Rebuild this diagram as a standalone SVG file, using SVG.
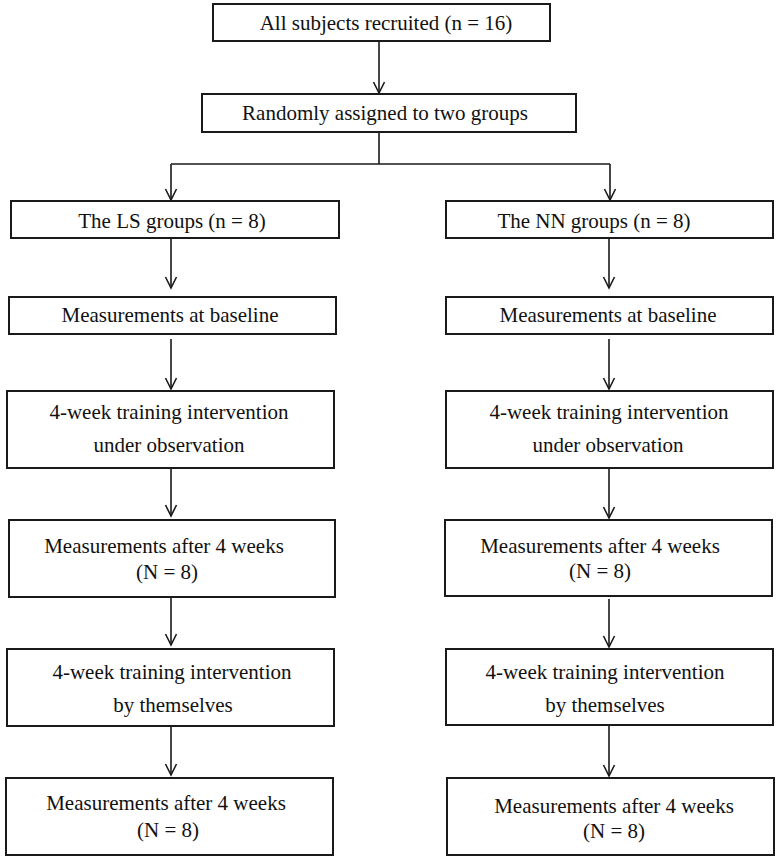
<svg xmlns="http://www.w3.org/2000/svg" width="780" height="864" viewBox="0 0 780 864">
<defs>
<style>
.box rect{fill:#fff;stroke:#1a1a1a;stroke-width:2}
.box text{font-family:"Liberation Serif","Times New Roman",serif;font-size:21px;fill:#111;text-anchor:middle}
.conn path{fill:none;stroke:#1a1a1a;stroke-width:1.6}
.head{fill:none;stroke:#1a1a1a;stroke-width:1.6}
</style>
</defs>
<rect width="780" height="864" fill="#fff"/>
<g id="connectors" class="conn">
<path d="M379 41V93"/><path class="head" d="M373.5 82L379 93L384.5 82"/>
<path d="M379 132V164M171 164H610M171 164V200"/><path class="head" d="M165.5 189L171 200L176.5 189"/>
<path d="M610 164V200"/><path class="head" d="M604.5 189L610 200L615.5 189"/>
<path d="M171 238V288"/><path class="head" d="M165.5 277L171 288L176.5 277"/>
<path d="M609 238V288"/><path class="head" d="M603.5 277L609 288L614.5 277"/>
<path d="M171 339V389"/><path class="head" d="M165.5 378L171 389L176.5 378"/>
<path d="M609 339V389"/><path class="head" d="M603.5 378L609 389L614.5 378"/>
<path d="M171 468V516"/><path class="head" d="M165.5 505L171 516L176.5 505"/>
<path d="M609 468V518"/><path class="head" d="M603.5 507L609 518L614.5 507"/>
<path d="M171 597V645"/><path class="head" d="M165.5 634L171 645L176.5 634"/>
<path d="M609 599V647"/><path class="head" d="M603.5 636L609 647L614.5 636"/>
<path d="M171 726V775"/><path class="head" d="M165.5 764L171 775L176.5 764"/>
<path d="M609 725V776"/><path class="head" d="M603.5 765L609 776L614.5 765"/>
</g>
<g id="n-all" class="box"><rect x="213" y="4" width="337" height="37"/><text x="386" y="30">All subjects recruited (n = 16)</text></g>
<g id="n-random" class="box"><rect x="202" y="94" width="374" height="38"/><text x="385" y="120">Randomly assigned to two groups</text></g>
<g id="n-ls" class="box"><rect x="11" y="201" width="328" height="37"/><text x="172" y="228">The LS groups (n = 8)</text></g>
<g id="n-nn" class="box"><rect x="446" y="201" width="327" height="37"/><text x="594" y="228">The NN groups (n = 8)</text></g>
<g id="n-ls-base" class="box"><rect x="9" y="297" width="327" height="37"/><text x="170" y="322">Measurements at baseline</text></g>
<g id="n-nn-base" class="box"><rect x="446" y="297" width="327" height="37"/><text x="608" y="322">Measurements at baseline</text></g>
<g id="n-ls-train1" class="box"><rect x="7" y="391" width="327" height="77"/><text x="169" y="419">4-week training intervention</text><text x="169" y="452">under observation</text></g>
<g id="n-nn-train1" class="box"><rect x="446" y="391" width="327" height="77"/><text x="609" y="419">4-week training intervention</text><text x="608" y="452">under observation</text></g>
<g id="n-ls-meas1" class="box"><rect x="9" y="520" width="326" height="77"/><text x="164" y="553">Measurements after 4 weeks</text><text x="167" y="579">(N = 8)</text></g>
<g id="n-nn-meas1" class="box"><rect x="445" y="520" width="327" height="76"/><text x="600" y="553">Measurements after 4 weeks</text><text x="600" y="578">(N = 8)</text></g>
<g id="n-ls-train2" class="box"><rect x="7" y="649" width="327" height="77"/><text x="172" y="679">4-week training intervention</text><text x="173" y="712">by themselves</text></g>
<g id="n-nn-train2" class="box"><rect x="446" y="649" width="327" height="76"/><text x="605" y="679">4-week training intervention</text><text x="605" y="712">by themselves</text></g>
<g id="n-ls-meas2" class="box"><rect x="6" y="778" width="327" height="77"/><text x="166" y="810">Measurements after 4 weeks</text><text x="168" y="837">(N = 8)</text></g>
<g id="n-nn-meas2" class="box"><rect x="447" y="778" width="327" height="77"/><text x="614" y="813">Measurements after 4 weeks</text><text x="614" y="838">(N = 8)</text></g>
</svg>
